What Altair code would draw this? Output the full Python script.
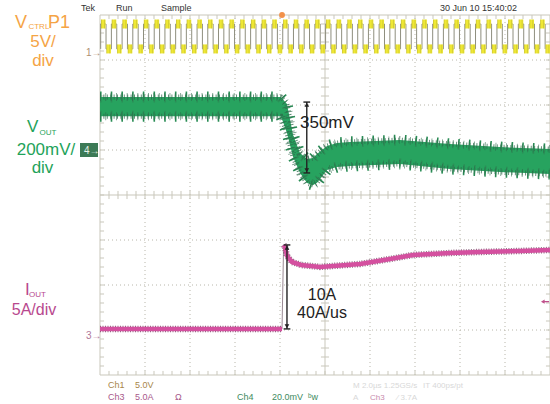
import altair as alt
import pandas as pd

# ---------------- layout: scope screen = 10 x 8 divisions ----------------
W, H = 550, 404
LEFT_PX, MID_PX, DIV_PX = 100, 195, 45
XDOM = [-LEFT_PX / DIV_PX, (W - LEFT_PX) / DIV_PX]
YDOM = [(MID_PX - H) / DIV_PX, MID_PX / DIV_PX]

US_PER_DIV = 2.0
CH1_V_PER_DIV, CH1_ZERO_DIV = 5.0, 3.18
CH4_MV_PER_DIV, CH4_ZERO_DIV = 200.0, 1.0
CH3_A_PER_DIV, CH3_ZERO_DIV = 5.0, -3.11

# ---------------- data ----------------
# CH1  V_CTRL P1 (5 V/div): switching square wave
ch1_period_us = 0.476
ch1_first_rise_us = 0.03
ch1_low_v = 0.33
ch1_high_v = 3.1

# CH4  V_OUT (200 mV/div): upper / lower edge of the trace
vout_t_us = [0, 8.04, 8.31, 8.58, 8.89, 9.2, 9.47, 9.64, 10.09, 10.53, 11.11, 13.33, 15.56, 17.78, 20]
vout_hi_mv = [236, 236, 204, 67, -13, -40, -36, -18, 18, 31, 36, 44, 27, 13, 4]
vout_lo_mv = [150, 150, 76, -31, -102, -147, -156, -147, -89, -76, -71, -62, -84, -98, -107]

# CH3  I_OUT (5 A/div)
iout_pre_t_us = [0, 8.09]
iout_pre_a = [0.67, 0.67]
iout_t_us = [8.16, 8.22, 8.31, 8.53, 8.93, 9.78, 11.56, 12.89, 13.91, 15.56, 16.89, 18.67, 20]
iout_a = [10.0, 9.78, 8.78, 8.11, 7.78, 7.56, 7.89, 8.44, 8.89, 9.11, 9.22, 9.33, 9.44]

# cursor measurements
meas_vout = {"t": 9.19, "hi": 213, "lo": -102}
meas_iout = {"t": 8.31, "hi": 10.0, "lo": 0.67}
trigger_t_us = 8.09
ch3_trig_level_a = 3.7

# ---------------- helpers ----------------
xs = alt.Scale(domain=XDOM, nice=False, zero=False)
ys = alt.Scale(domain=YDOM, nice=False, zero=False)
FONT = "Liberation Sans"


def X(f="x"):
    return alt.X(f"{f}:Q", scale=xs, axis=None)


def Y(f="y"):
    return alt.Y(f"{f}:Q", scale=ys, axis=None)


def tx(t):
    return t / US_PER_DIV


def v1(v):
    return CH1_ZERO_DIV + v / CH1_V_PER_DIV


def v4(mv):
    return CH4_ZERO_DIV + mv / CH4_MV_PER_DIV


def i3(a):
    return CH3_ZERO_DIV + a / CH3_A_PER_DIV


def segs(rows, **kw):
    df = pd.DataFrame(rows, columns=["x", "x2", "y", "y2"])
    return alt.Chart(df).mark_rule(**kw).encode(
        x=X("x"), x2=alt.X2("x2:Q"), y=Y("y"), y2=alt.Y2("y2:Q"))


layers = []

# ---------------- graticule ----------------
GRID = "#c9c7bb"
dots = [(d, d, -4, 4) for d in range(1, 10) if d != 5] + \
       [(0, 10, d, d) for d in range(-3, 4) if d != 0]
layers.append(segs(dots, color="#b8b6aa", strokeWidth=1, strokeDash=[1, 3]))
frame = [(0, 10, 4, 4), (0, 10, -4, -4), (0, 0, -4, 4), (10, 10, -4, 4),
         (5, 5, -4, 4), (0, 10, 0, 0)]
layers.append(segs(frame, color=GRID, strokeWidth=1))
tk = 0.09
ticks = []
for k in range(1, 50):
    x = k * 0.2
    ticks += [(x, x, -tk, tk), (x, x, 4, 4 - tk), (x, x, -4, -4 + tk)]
for k in range(-19, 20):
    y = k * 0.2
    ticks += [(5 - tk, 5 + tk, y, y), (0, tk, y, y), (10 - tk, 10, y, y)]
layers.append(segs(ticks, color=GRID, strokeWidth=1))

# ---------------- CH1 square wave ----------------
rises = []
t = ch1_first_rise_us
while t < 20:
    rises.append(t)
    t += ch1_period_us
sq_x, sq_y, blobs = [], [], []
for r in rises:
    f = r + ch1_period_us / 2
    nxt = r + ch1_period_us
    sq_x += [r, r, f, f]
    sq_y += [ch1_low_v, ch1_high_v, ch1_high_v, ch1_low_v]
    blobs.append((tx(r + 0.015), tx(min(f - 0.02, 20)), v1(ch1_high_v), v1(ch1_high_v)))
    if f < 20:
        blobs.append((tx(f + 0.015), tx(min(nxt - 0.02, 20)), v1(ch1_low_v), v1(ch1_low_v)))
sq = pd.DataFrame({"x": [tx(a) for a in sq_x], "y": [v1(b) for b in sq_y], "o": range(len(sq_x))})
sq = sq[sq["x"] <= 10]
layers.append(alt.Chart(sq).mark_line(color="#8e8e7e", strokeWidth=1).encode(
    x=X(), y=Y(), order="o:Q"))
layers.append(segs(blobs, color="#efe834", strokeWidth=9, strokeCap="butt"))
layers.append(segs(blobs, color="#7f7a30", strokeWidth=9, strokeCap="butt",
                   strokeDash=[0.8, 2.2], opacity=0.28))

# ---------------- CH4 V_OUT ----------------
vo = pd.DataFrame({
    "x": [tx(t) for t in vout_t_us],
    "top": [v4(m) for m in vout_hi_mv],
    "bot": [v4(m) for m in vout_lo_mv],
})
DARKG = "#2c6a4a"
layers.append(alt.Chart(vo).mark_area(color="#27a35f").encode(x=X(), y=Y("top"), y2="bot:Q"))
for edge in ("top", "bot"):
    layers.append(alt.Chart(vo).mark_line(color=DARKG, strokeWidth=5, strokeDash=[1, 2.4],
                                          opacity=0.75, strokeCap="butt").encode(x=X(), y=Y(edge)))
    layers.append(alt.Chart(vo).mark_line(color="#2b8f57", strokeWidth=11, strokeDash=[1.6, 9.1],
                                          strokeCap="butt").encode(x=X(), y=Y(edge)))
    layers.append(alt.Chart(vo).mark_line(color=DARKG, strokeWidth=8, strokeDash=[0.8, 4.55],
                                          opacity=0.7, strokeCap="butt").encode(x=X(), y=Y(edge)))

# ---------------- CH3 I_OUT ----------------
io = pd.DataFrame({
    "x": [tx(t) for t in iout_pre_t_us + iout_t_us],
    "y": [i3(a) for a in iout_pre_a + iout_a],
    "seg": ["pre"] * len(iout_pre_t_us) + ["post"] * len(iout_t_us),
})
step = pd.DataFrame({"x": [tx(iout_pre_t_us[-1]), tx(iout_t_us[0])],
                     "y": [i3(iout_pre_a[-1]), i3(iout_a[0])]})
layers.append(alt.Chart(step).mark_line(color="#9a8a94", strokeWidth=1).encode(x=X(), y=Y()))
layers.append(alt.Chart(io).mark_line(color="#5e2a4c", strokeWidth=6.5, strokeDash=[1, 1.5],
                                      opacity=0.7).encode(x=X(), y=Y(), detail="seg:N"))
layers.append(alt.Chart(io).mark_line(color="#d4509f", strokeWidth=4.5).encode(
    x=X(), y=Y(), detail="seg:N"))

# ---------------- cursor arrows ----------------
INK = "#222222"
cw = 0.075
arrows = [(tx(meas_vout["t"]), v4(meas_vout["hi"]), v4(meas_vout["lo"])),
          (tx(meas_iout["t"]), i3(meas_iout["hi"]), i3(meas_iout["lo"]))]
ar_rows = []
for x, hi, lo in arrows:
    ar_rows += [(x, x, hi, lo), (x - cw, x + cw, hi, hi), (x - cw, x + cw, lo, lo)]
layers.append(segs(ar_rows, color=INK, strokeWidth=1.4))
heads = pd.DataFrame({"x": [a[0] for a in arrows] * 2,
                      "y": [a[1] - 0.06 for a in arrows] + [a[2] + 0.06 for a in arrows],
                      "s": ["triangle-up"] * 2 + ["triangle-down"] * 2})
layers.append(alt.Chart(heads).mark_point(filled=True, color=INK, size=22, opacity=1).encode(
    x=X(), y=Y(), shape=alt.Shape("s:N", scale=None)))

# trigger markers
trig = pd.DataFrame({"x": [tx(trigger_t_us)], "y": [4.0]})
layers.append(alt.Chart(trig).mark_point(filled=True, color="#f2914a", size=34, opacity=1).encode(
    x=X(), y=Y()))
tl = i3(ch3_trig_level_a)
layers.append(segs([(9.84, 9.98, tl, tl)], color="#c0508c", strokeWidth=1.3))
layers.append(alt.Chart(pd.DataFrame({"x": [9.84], "y": [tl]})).mark_point(
    filled=True, color="#c0508c", size=18, shape="triangle-left", opacity=1).encode(x=X(), y=Y()))

# Ch4 ground marker box
layers.append(alt.Chart(pd.DataFrame({"x": [-0.444], "x2": [-0.044], "y": [1.156], "y2": [0.844]}))
              .mark_rect(color="#3c7a56").encode(x=X(), x2="x2:Q", y=Y(), y2="y2:Q"))

# ---------------- texts ----------------
ORANGE, GREEN, PINK = "#f5a445", "#1fa35a", "#b8488e"
FADE = "#d8d8d8"
texts = [
    # text, x_div, y_div, size, color, align
    ("V", -1.889, 3.711, 18, ORANGE, "left"),
    ("CTRL", -1.59, 3.69, 8, ORANGE, "left"),
    ("P1", -1.156, 3.711, 18, ORANGE, "left"),
    ("5V/", -1.267, 3.289, 17, ORANGE, "center"),
    ("div", -1.267, 2.867, 17, ORANGE, "center"),
    ("V", -1.622, 1.40, 17, GREEN, "left"),
    ("OUT", -1.345, 1.333, 8, GREEN, "left"),
    ("200mV/", -1.20, 0.889, 17, GREEN, "center"),
    ("div", -1.278, 0.50, 17, GREEN, "center"),
    ("I", -1.667, -2.222, 17, PINK, "left"),
    ("OUT", -1.578, -2.267, 8, PINK, "left"),
    ("5A/div", -1.467, -2.667, 16, PINK, "center"),
    ("350mV", 4.444, 1.489, 17, INK, "left"),
    ("10A", 4.933, -2.333, 16, INK, "center"),
    ("40A/us", 4.933, -2.733, 16, INK, "center"),
    ("Tek", -0.422, 4.089, 9, "#333333", "left"),
    ("Run", 0.356, 4.089, 9, "#333333", "left"),
    ("Sample", 1.356, 4.089, 9, "#333333", "left"),
    ("30 Jun 10 15:40:02", 7.556, 4.089, 9, "#333333", "left"),
    ("Ch1", 0.178, -4.289, 9, "#a8864a", "left"),
    ("5.0V", 0.778, -4.289, 9, "#a8864a", "left"),
    ("M 2.0µs 1.25GS/s", 5.622, -4.289, 8, FADE, "left"),
    ("IT 400ps/pt", 7.178, -4.289, 8, FADE, "left"),
    ("Ch3", 0.178, -4.556, 9, "#a8588a", "left"),
    ("5.0A", 0.778, -4.556, 9, "#a8588a", "left"),
    ("Ω", 1.667, -4.556, 9, "#a8588a", "left"),
    ("Ch4", 3.044, -4.556, 9, "#3e8a5e", "left"),
    ("20.0mV", 3.822, -4.556, 9, "#3e8a5e", "left"),
    ("ᵇw", 4.622, -4.556, 9, "#3e8a5e", "left"),
    ("A", 5.622, -4.556, 8, FADE, "left"),
    ("Ch3", 6.0, -4.556, 8, "#c88aac", "left"),
    ("⁄  3.7A", 6.6, -4.556, 8, FADE, "left"),
    ("1→", -0.311, 3.10, 10, "#b09070", "left"),
    ("4→", -0.356, 0.911, 10, "#e6f2e8", "left"),
    ("3→", -0.311, -3.20, 10, "#b07898", "left"),
]
tdf = pd.DataFrame(texts, columns=["t", "x", "y", "fs", "col", "al"])
for al in ("left", "center"):
    sub = tdf[tdf["al"] == al]
    layers.append(alt.Chart(sub).mark_text(align=al, baseline="alphabetic", font=FONT).encode(
        x=X(), y=Y(), text="t:N",
        size=alt.Size("fs:Q", scale=None),
        color=alt.Color("col:N", scale=None)))

chart = alt.layer(*layers).properties(
    width=W, height=H, padding=0, autosize="none", background="white"
).configure_view(stroke=None)

chart.save("out.html", embed_options={"renderer": "svg", "actions": False})
